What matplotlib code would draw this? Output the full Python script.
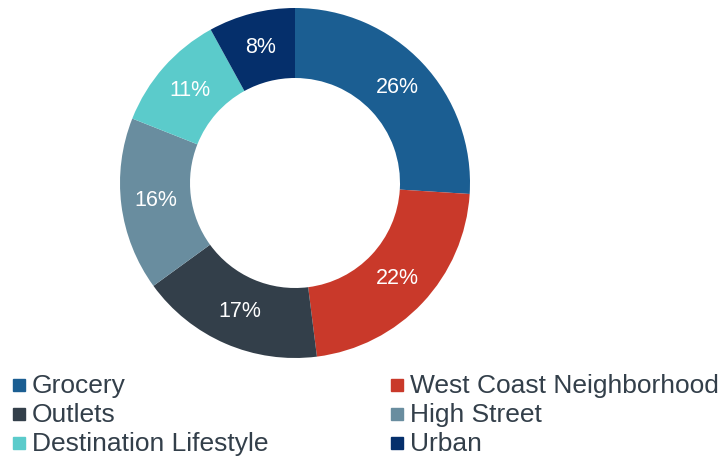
import matplotlib
matplotlib.use('Agg')
from matplotlib import pyplot as plt
from matplotlib.patches import Rectangle

categories = ['Grocery', 'West Coast Neighborhood', 'Outlets', 'High Street',
              'Destination Lifestyle', 'Urban']
shares = [26, 22, 17, 16, 11, 8]
colors = ['#1B5E92', '#C9392A', '#333F4A', '#698D9F', '#5BCBCB', '#052F6B']

plt.rcParams['font.family'] = ['Liberation Sans', 'DejaVu Sans']
text_color = '#333F4A'

fig = plt.figure(figsize=(7.26, 4.59), dpi=100)
ax = fig.add_axes([120 / 726, 1 - 358 / 459, 350 / 726, 350 / 459])

wedges, texts, autotexts = ax.pie(
    shares, colors=colors, startangle=90, counterclock=False,
    autopct='%d%%', pctdistance=0.8,
    wedgeprops=dict(width=0.4, edgecolor='none'),
    textprops=dict(color='white', fontsize=15.5))
ax.set_xlim(-1, 1)
ax.set_ylim(-1, 1)
ax.set_aspect('equal')

# legend, two columns, filled row by row
for i, (name, c) in enumerate(zip(categories, colors)):
    col = i % 2
    row = i // 2
    x0 = 13 if col == 0 else 391
    y0 = 385 + row * 29
    fig.add_artist(Rectangle((x0 / 726, 1 - (y0 + 6) / 459), 12 / 726, 12 / 459,
                             transform=fig.transFigure, color=c))
    fig.text((x0 + 19) / 726, 1 - (y0 + 1) / 459, name, fontsize=19,
             color=text_color, va='center', ha='left')

fig.savefig('out.png', dpi=100)
